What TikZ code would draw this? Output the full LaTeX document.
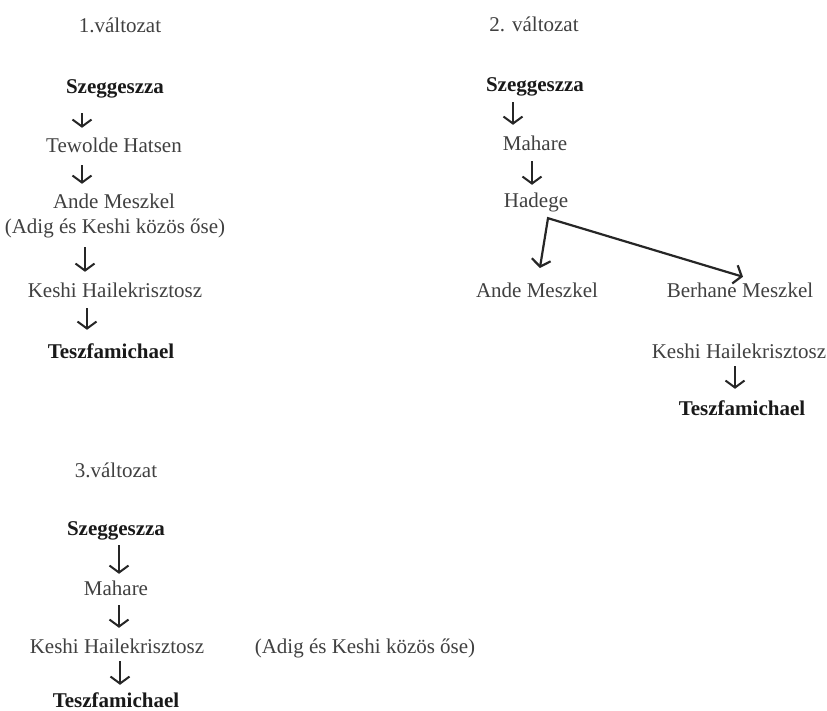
\documentclass[tikz,border=0pt]{standalone}
\usepackage{fontspec}
\setmainfont{Liberation Serif}
\usetikzlibrary{arrows.meta}
\definecolor{txt}{gray}{0.25}
\definecolor{boldtxt}{gray}{0.1}
\definecolor{arrc}{gray}{0.15}
\tikzset{
  lbl/.style={anchor=base, inner sep=0pt, text height=12pt, text depth=4pt, text=txt, font=\fontsize{21}{25}\selectfont},
  blbl/.style={lbl, text=boldtxt, font=\fontsize{21}{25}\selectfont\bfseries},
  ttl/.style={lbl, text=txt},
  arr/.style={draw=arrc, line width=2pt, -{Straight Barb[length=7pt,width=19pt]}},
  arrtwo/.style={draw=arrc, line width=2.2pt, {Straight Barb[length=7pt,width=19pt]}-{Straight Barb[length=7pt,width=19pt]}}
}
\begin{document}
\begin{tikzpicture}[x=1pt,y=-1pt]
\useasboundingbox[fill=white] (0,0) rectangle (827,711);
% column 1
\node[ttl]  (t1x) at (120,33) {1.változat};
\node[blbl] (s1)  at (115,94) {Szeggeszza};
\node[lbl]  (t1)  at (114,153) {Tewolde Hatsen};
\node[lbl]  (a1)  at (114,209) {Ande Meszkel};
\node[lbl]  (c1)  at (115,234) {(Adig és Keshi közös őse)};
\node[lbl]  (k1)  at (115,298) {Keshi Hailekrisztosz};
\node[blbl] (f1)  at (111,358) {Teszfamichael};
\draw[arr, shorten <=15pt, shorten >=13pt] ([xshift=-33pt]s1.south) -- ([xshift=-33pt]s1.south |- t1.north);
\draw[arr, shorten <=8pt, shorten >=13pt] ([xshift=-32pt]t1.south) -- ([xshift=-32pt]t1.south |- a1.north);
\draw[arr, shorten <=9pt, shorten >=14pt] ([xshift=-30pt]c1.south) -- ([xshift=-30pt]c1.south |- k1.north);
\draw[arr, shorten <=6pt, shorten >=16pt] ([xshift=-28pt]k1.south) -- ([xshift=-28pt]k1.south |- f1.north);
% column 2
\node[ttl]  (t2x) at (534,32) {2. változat};
\node[blbl] (s2)  at (535,92) {Szeggeszza};
\node[lbl]  (m2)  at (535,151) {Mahare};
\node[lbl]  (h2)  at (536,208) {Hadege};
\node[lbl]  (am2) at (537,298) {Ande Meszkel};
\node[lbl]  (bm2) at (740,298) {Berhane Meszkel};
\node[lbl]  (k2)  at (739,358) {Keshi Hailekrisztosz};
\node[blbl] (f2)  at (742,415) {Teszfamichael};
\draw[arr, shorten <=6pt, shorten >=14pt] ([xshift=-22pt]s2.south) -- ([xshift=-22pt]s2.south |- m2.north);
\draw[arr, shorten <=6pt, shorten >=11pt] ([xshift=-3pt]m2.south) -- ([xshift=-3pt]m2.south |- h2.north);
\coordinate (hc) at ([xshift=12pt,yshift=-6pt]h2.south);
\draw[arrtwo, shorten <=18pt] (am2.north) -- (hc) -- ([xshift=3pt,yshift=9pt]bm2.north);
\draw[arr, shorten <=4pt, shorten >=14pt] ([xshift=-4pt]k2.south) -- ([xshift=-4pt]k2.south |- f2.north);
% column 3
\node[ttl]  (t3x) at (116,477) {3.változat};
\node[blbl] (s3)  at (116,535) {Szeggeszza};
\node[lbl]  (m3)  at (116,595) {Mahare};
\node[lbl]  (k3)  at (117,653) {Keshi Hailekrisztosz};
\node[lbl]  (c3)  at (365,653) {(Adig és Keshi közös őse)};
\node[blbl] (f3)  at (116,707) {Teszfamichael};
\draw[arr, shorten <=6pt, shorten >=9pt] ([xshift=3pt]s3.south) -- ([xshift=3pt]s3.south |- m3.north);
\draw[arr, shorten <=6pt, shorten >=13pt] ([xshift=3pt]m3.south) -- ([xshift=3pt]m3.south |- k3.north);
\draw[arr, shorten <=4pt, shorten >=10pt] ([xshift=3pt]k3.south) -- ([xshift=3pt]k3.south |- f3.north);
\end{tikzpicture}
\end{document}
